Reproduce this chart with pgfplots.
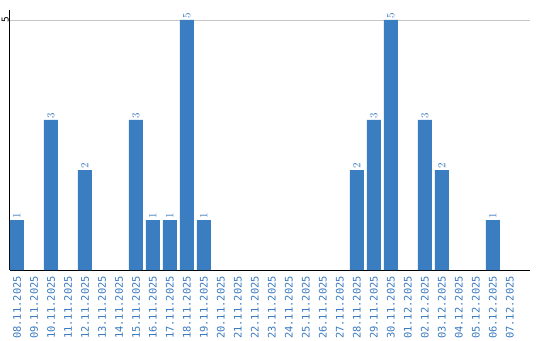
\documentclass[border=0pt]{standalone}
\usepackage{fontspec}
\setmainfont{DejaVu Sans Mono}
\usepackage{pgfplots}
\pgfplotsset{compat=1.18}
\definecolor{barblue}{RGB}{59,125,193}
\definecolor{lblblue}{RGB}{58,122,191}
\begin{document}
\begin{tikzpicture}
\begin{axis}[
  scale only axis,
  width=520pt, height=260pt,
  xmin=-0.41, xmax=30.18,
  ymin=0, ymax=5.2,
  axis x line*=bottom, axis y line*=left,
  axis line style={-, black, line width=1pt},
  ytick={5}, yticklabels={5},
  yticklabel style={rotate=90, anchor=south, font=\fontsize{9.5}{10}\selectfont, inner sep=1pt},
  ymajorgrids, grid style={gray!45, line width=0.8pt},
  major tick length=0pt,
  xtick={0,...,29},
  xticklabels={08.11.2025,09.11.2025,10.11.2025,11.11.2025,12.11.2025,13.11.2025,14.11.2025,15.11.2025,16.11.2025,17.11.2025,18.11.2025,19.11.2025,20.11.2025,21.11.2025,22.11.2025,23.11.2025,24.11.2025,25.11.2025,26.11.2025,27.11.2025,28.11.2025,29.11.2025,30.11.2025,01.12.2025,02.12.2025,03.12.2025,04.12.2025,05.12.2025,06.12.2025,07.12.2025},
  xticklabel style={rotate=90, anchor=east, text=lblblue, font=\fontsize{10.4}{12}\selectfont, inner sep=0pt, xshift=-6pt},
  ybar, bar width=14pt,
  nodes near coords,
  every node near coord/.append style={rotate=90, anchor=west, text=lblblue, font=\fontsize{11}{12}\selectfont, inner sep=1pt},
  clip=false,
]
\addplot[fill=barblue, draw=none] coordinates {
  (0,1) (2,3) (4,2) (7,3) (8,1) (9,1) (10,5) (11,1)
  (20,2) (21,3) (22,5) (24,3) (25,2) (28,1)
};
\end{axis}
\path (current axis.south west) ++(-10pt,-70pt) coordinate (bl);
\path (current axis.south west) ++(530pt,270pt) coordinate (tr);
\useasboundingbox (bl) rectangle (tr);
\end{tikzpicture}
\end{document}
